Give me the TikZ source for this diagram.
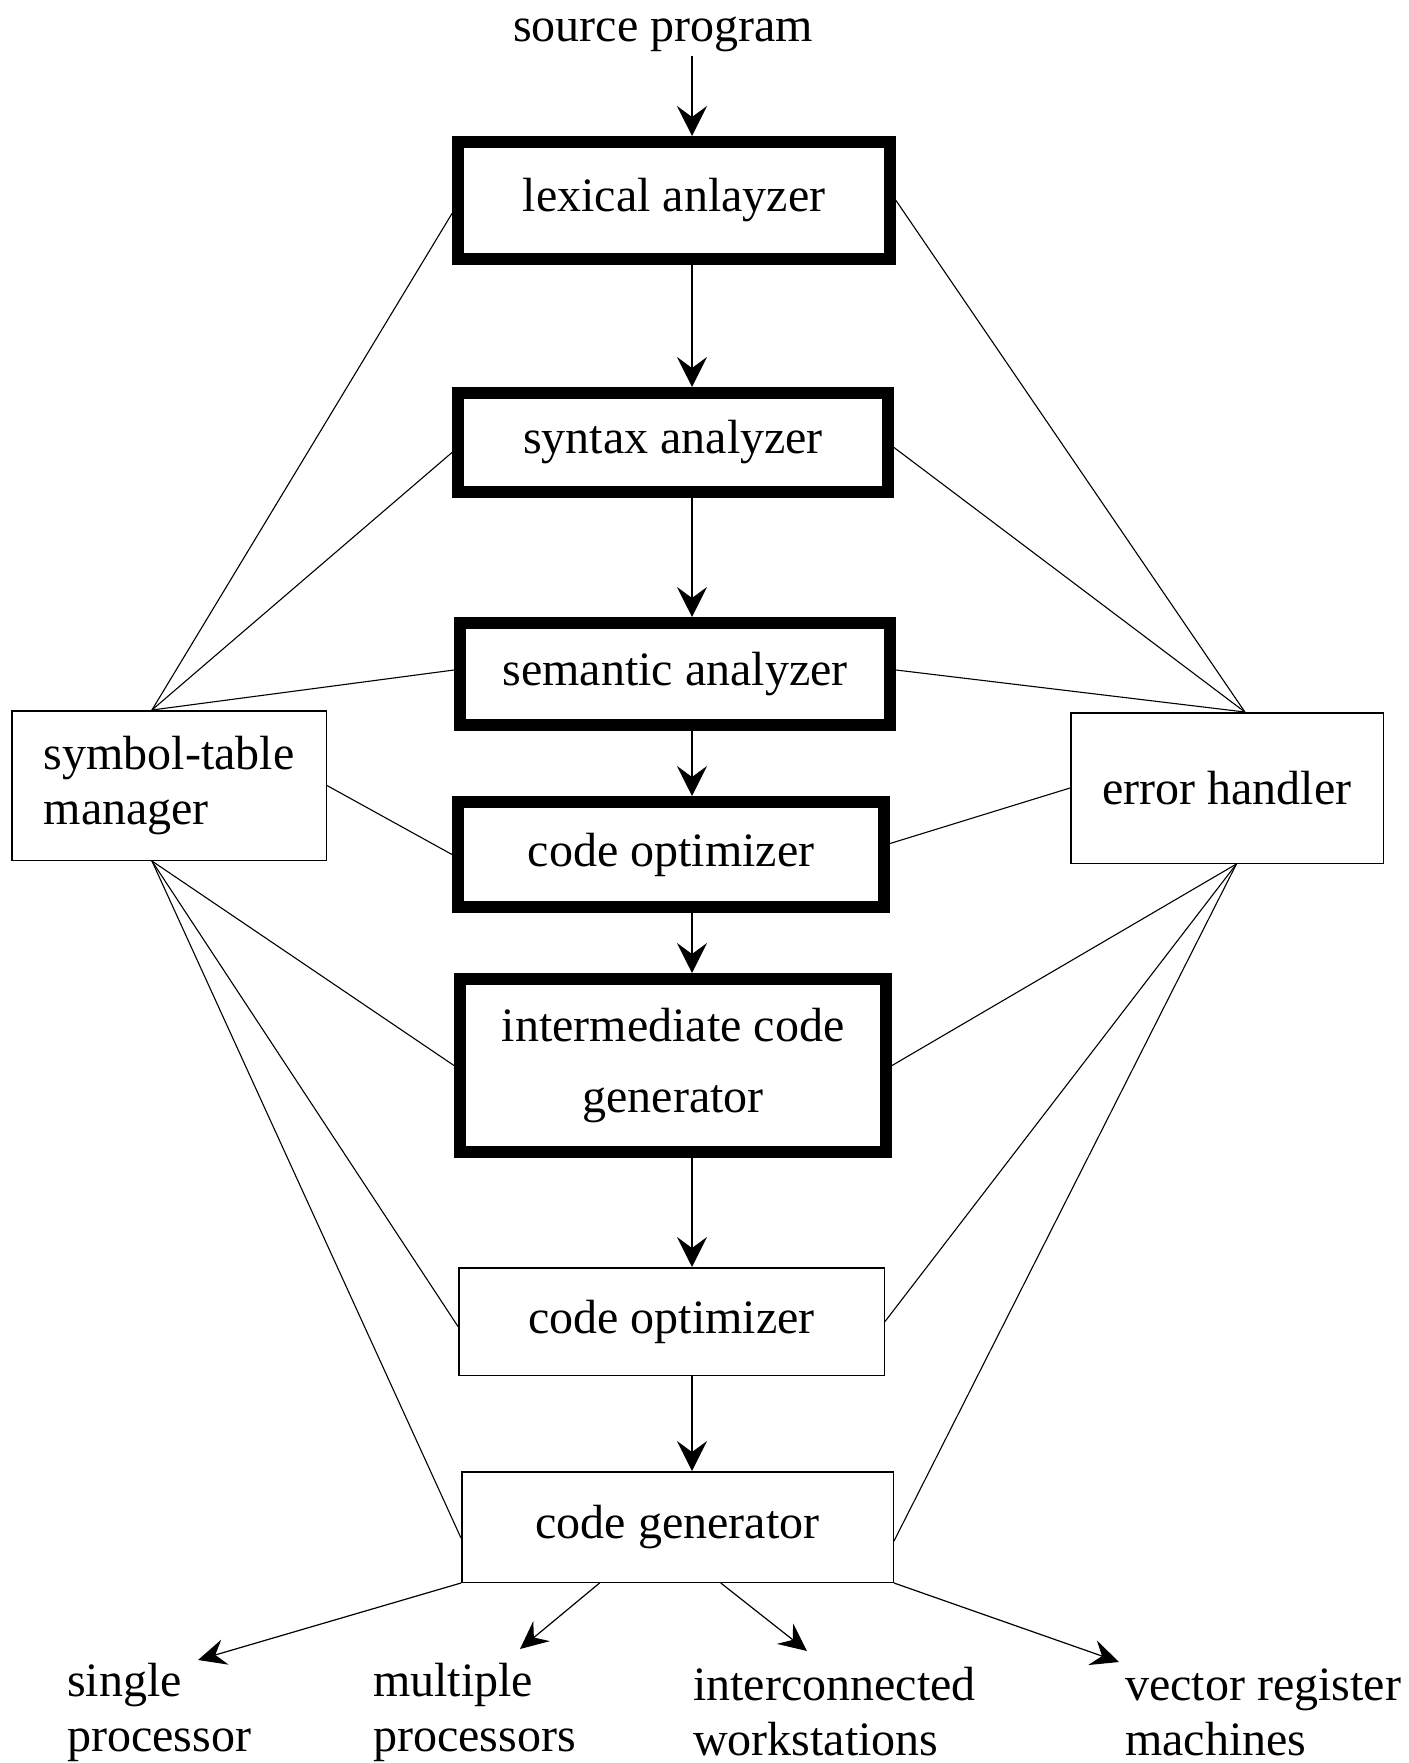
\documentclass[tikz,border=0pt]{standalone}
\usepackage{fontspec}
\setmainfont{Liberation Serif}
\usetikzlibrary{arrows.meta,calc}
\begin{document}
\begin{tikzpicture}[x=1pt,y=-1pt,
  every node/.style={font=\fontsize{48}{55}\selectfont},
  thickbox/.style={draw, line width=12pt, inner sep=0pt},
  thinbox/.style={draw, line width=1.5pt, inner sep=0pt},
  arr/.style={line width=1.6pt, -{Stealth[length=30pt,width=30pt,inset=11pt]}},
  arrb/.style={line width=1.2pt, -{Stealth[length=28pt,width=26pt,inset=10pt]}},
  link/.style={line width=1.1pt},
  lbl/.style={align=left, anchor=west, inner sep=0pt}
]
\useasboundingbox (0,0) rectangle (1408,1763);
\coordinate (ax) at (692,0);
\node[anchor=base] (src) at (663,42) {source program};
\node[thickbox, minimum width=432pt, minimum height=117pt] (lex) at (674,200.5) {lexical anlayzer};
\node[thickbox, minimum width=430pt, minimum height=99pt] (syn) at (673,442.5) {syntax analyzer};
\node[thickbox, minimum width=430pt, minimum height=102pt] (sem) at (675,674) {semantic analyzer};
\node[thickbox, minimum width=426pt, minimum height=105pt] (opa) at (671,854.5) {code optimizer};
\node[thickbox, minimum width=426pt, minimum height=173pt, align=center] (icg) at (673,1065.5) {intermediate code\\[16pt]generator};
\node[thinbox, minimum width=425.5pt, minimum height=107.5pt] (opb) at (671.5,1321.5) {code optimizer};
\node[thinbox, minimum width=431.5pt, minimum height=110.5pt] (gen) at (677.5,1527) {code generator};
\node[thinbox, minimum width=314.5pt, minimum height=149.5pt, align=left] (st) at (169,785.5) {symbol-table\\manager};
\node[thinbox, minimum width=312.5pt, minimum height=150.5pt] (eh) at (1227,788) {error handler};

% main flow
\draw[arr] (src.south -| ax) -- (lex.north -| ax);
\draw[arr] (lex.south -| ax) -- (syn.north -| ax);
\draw[arr] (syn.south -| ax) -- (sem.north -| ax);
\draw[arr] (sem.south -| ax) -- (opa.north -| ax);
\draw[arr] (opa.south -| ax) -- (icg.north -| ax);
\draw[arr] (icg.south -| ax) -- (opb.north -| ax);
\draw[arr] (opb.south -| ax) -- (gen.north -| ax);

% symbol table links
\coordinate (stT) at ($(st.north west)!0.446!(st.north east)$);
\coordinate (stB) at ($(st.south west)!0.446!(st.south east)$);
\draw[link] (stT) -- ([yshift=-13pt]lex.west);
\draw[link] (stT) -- ([yshift=-10pt]syn.west);
\draw[link] (stT) -- ([yshift=4pt]sem.west);
\draw[link] (st.east) -- (opa.west);
\draw[link] (stB) -- (icg.west);
\draw[link] (stB) -- ([yshift=-5pt]opb.west);
\draw[link] (stB) -- ([yshift=-11pt]gen.west);

% error handler links
\coordinate (ehT) at ($(eh.north west)!0.557!(eh.north east)$);
\coordinate (ehB) at ($(eh.south west)!0.53!(eh.south east)$);
\draw[link] (ehT) -- (lex.east);
\draw[link] (ehT) -- ([yshift=-5pt]syn.east);
\draw[link] (ehT) -- ([yshift=4pt]sem.east);
\draw[link] (eh.west) -- ([yshift=11pt]opa.east);
\draw[link] (ehB) -- (icg.east);
\draw[link] (ehB) -- (opb.east);
\draw[link] (ehB) -- ([yshift=-14pt]gen.east);

% targets
\coordinate (t1) at (198,1660);
\coordinate (t2) at (520,1649);
\coordinate (t3) at (807,1651);
\coordinate (t4) at (1119,1662);
\draw[arrb] (gen.south west) -- (t1);
\draw[arrb] ($(gen.south west)!0.32!(gen.south east)$) -- (t2);
\draw[arrb] ($(gen.south west)!0.6!(gen.south east)$) -- (t3);
\draw[arrb] (gen.south east) -- (t4);

\node[lbl] (l1) at (67,1712) {single\\processor};
\node[lbl] (l2) at (373,1712) {multiple\\processors};
\node[lbl] (l3) at (693,1712) {interconnected\\workstations};
\node[lbl] (l4) at (1125,1712) {vector register\\machines};
\end{tikzpicture}
\end{document}
